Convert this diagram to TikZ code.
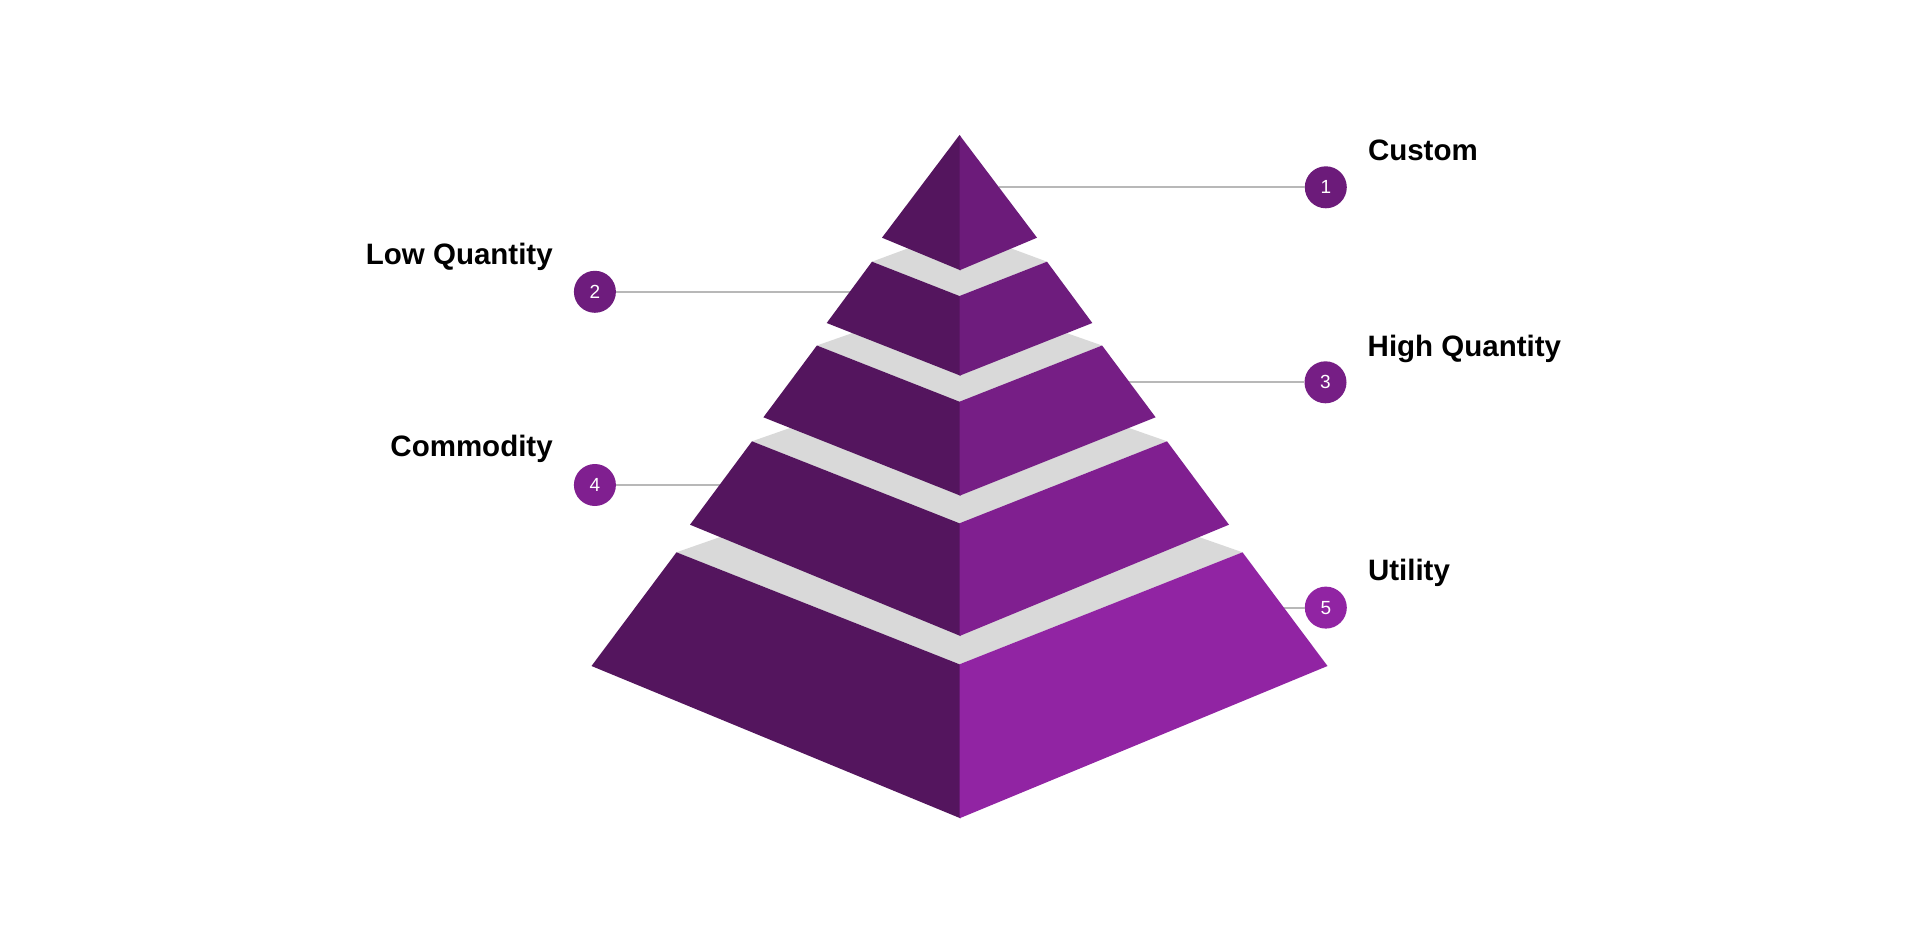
\documentclass[tikz,border=0pt]{standalone}
\usepackage{fontspec}
\setmainfont{Liberation Sans}
\usepackage{xcolor}
\usepackage{tikz}
\usetikzlibrary{positioning, calc}

\definecolor{leftpurple}{HTML}{54155E}
\definecolor{tierone}{HTML}{6C1B7A}
\definecolor{tiertwo}{HTML}{6E1C7D}
\definecolor{tierthree}{HTML}{761E85}
\definecolor{tierfour}{HTML}{801F90}
\definecolor{tierfive}{HTML}{9124A3}
\definecolor{topgray}{HTML}{D9D9D9}
\definecolor{leadgray}{HTML}{B8B8B8}

\begin{document}
\begin{tikzpicture}[
    x=1pt, y=-1pt,
    topface/.style={fill=topgray},
    leftface/.style={fill=leftpurple},
    badge/.style={circle, inner sep=0pt, minimum size=42pt, text=white, font=\fontsize{19}{19}\selectfont},
    tierlabel/.style={inner sep=0pt, font=\fontsize{29.5}{30}\selectfont\bfseries},
    lead/.style={draw=leadgray, line width=1.8pt}
]
\useasboundingbox[fill=white] (0,0) rectangle (1919,939);

% badges
\node[badge, fill=tierone]   (b1) at (1325.8,187.3) {1};
\node[badge, fill=tiertwo]   (b2) at (594.9,291.8)  {2};
\node[badge, fill=tierthree] (b3) at (1325.5,382.3) {3};
\node[badge, fill=tierfour]  (b4) at (594.9,485)    {4};
\node[badge, fill=tierfive]  (b5) at (1325.8,607.6) {5};

% labels
\node[tierlabel, anchor=base west] (l1) at ($(b1)+(42,-27)$) {Custom};
\node[tierlabel, anchor=base east] (l2) at ($(b2)+(-42,-27)$) {Low Quantity};
\node[tierlabel, anchor=base west] (l3) at ($(b3)+(42,-26)$) {High Quantity};
\node[tierlabel, anchor=base east] (l4) at ($(b4)+(-42,-29)$) {Commodity};
\node[tierlabel, anchor=base west] (l5) at ($(b5)+(42,-27)$) {Utility};

% leader ends on the pyramid
\coordinate (e1) at (998.8,187.3);
\coordinate (e2) at (849.6,291.8);
\coordinate (e3) at (1128.5,382.3);
\coordinate (e4) at (720.1,485);
\coordinate (e5) at (1284.4,607.6);

\draw[lead] (e1) -- (b1);
\draw[lead] (e2) -- (b2);
\draw[lead] (e3) -- (b3);
\draw[lead] (e4) -- (b4);
\draw[lead] (e5) -- (b5);

% tier 5 (Utility)
\fill[topface] (676.5,552.3) -- (959.5,453.3) -- (1242.5,552.3) -- (959.5,664.3) -- cycle;
\fill[leftface] (676.5,552.3) -- (960.5,664.7) -- (960.5,818.3) -- (591.5,666) -- cycle;
\fill[tierfive] (1242.5,552.3) -- (959.5,664.3) -- (959.5,818.3) -- (1327.5,666) -- cycle;

% tier 4 (Commodity)
\fill[topface] (752,441.3) -- (959.5,368.7) -- (1167,441.3) -- (959.5,523.3) -- cycle;
\fill[leftface] (752,441.3) -- (960.5,523.7) -- (960.5,636) -- (690,524.7) -- cycle;
\fill[tierfour] (1167,441.3) -- (959.5,523.3) -- (959.5,636) -- (1229,524.7) -- cycle;

% tier 3 (High Quantity)
\fill[topface] (816.9,345.5) -- (959.5,295.6) -- (1102.1,345.5) -- (959.5,401.7) -- cycle;
\fill[leftface] (816.9,345.5) -- (960.5,402.1) -- (960.5,495.7) -- (763.4,417.3) -- cycle;
\fill[tierthree] (1102.1,345.5) -- (959.5,401.7) -- (959.5,495.7) -- (1155.6,417.3) -- cycle;

% tier 2 (Low Quantity)
\fill[topface] (872,261.7) -- (959.5,229.3) -- (1047,261.7) -- (959.5,296) -- cycle;
\fill[leftface] (872,261.7) -- (960.5,296.4) -- (960.5,375.7) -- (826.7,323) -- cycle;
\fill[tiertwo] (1047,261.7) -- (959.5,296) -- (959.5,375.7) -- (1092.3,323) -- cycle;

% tier 1 (Custom)
\fill[leftface] (959.5,135) -- (960.5,136.3) -- (960.5,270.3) -- (882,237.7) -- cycle;
\fill[tierone] (959.5,135) -- (959.5,270.3) -- (1037,237.7) -- cycle;

\end{tikzpicture}
\end{document}
